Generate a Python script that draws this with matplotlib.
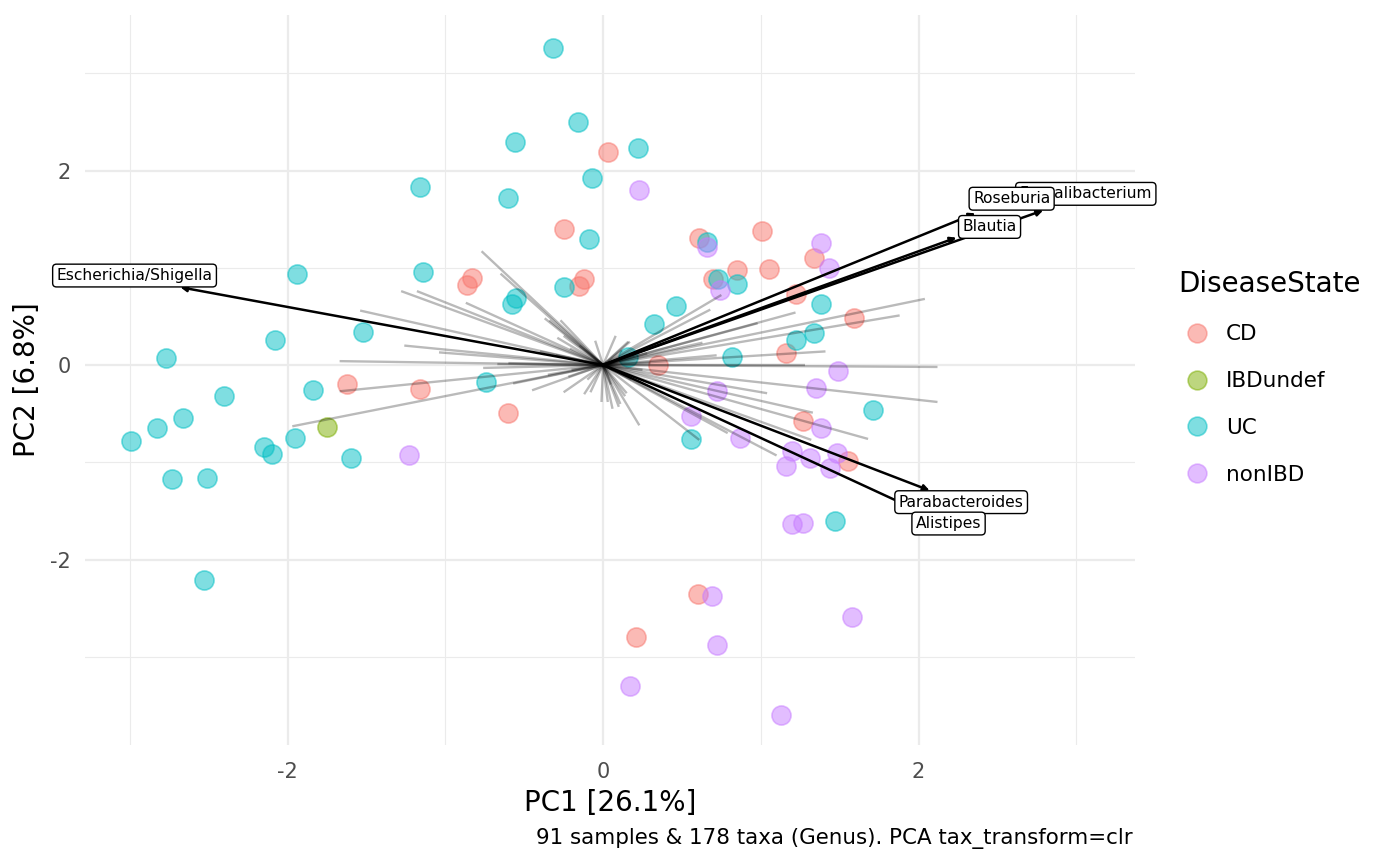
import matplotlib.pyplot as plt
import numpy as np
from matplotlib.lines import Line2D

plt.rcParams['font.family'] = ['DejaVu Sans']
plt.rcParams['axes.unicode_minus'] = False

# sample scores (PC1, PC2) by disease state
cd_x = [0.03, -0.25, -0.83, -0.86, -0.12, -0.15, 0.61, 1.01, 0.70, 0.85, 1.05, 1.34,
        1.22, 1.59, 1.16, 0.35, -1.62, -1.16, -0.60, 1.27, 1.55, 0.60, 0.21]
cd_y = [2.19, 1.40, 0.89, 0.82, 0.88, 0.81, 1.31, 1.38, 0.88, 0.98, 0.99, 1.10,
        0.73, 0.48, 0.12, 0.00, -0.19, -0.25, -0.49, -0.58, -0.99, -2.35, -2.80]

ibd_x = [-1.75]
ibd_y = [-0.64]

uc_x = [-0.32, -0.16, -0.56, 0.22, -0.07, -1.16, -0.60, -0.09, -1.14, -1.94, -0.25,
        -0.55, -0.58, 0.66, 0.73, 0.85, 0.46, 0.32, 1.38, 1.22, 1.34, 0.82, 0.16,
        -2.77, -2.08, -1.52, -2.40, -2.66, -2.83, -2.99, -2.15, -2.10, -1.95, -1.84,
        -1.60, -2.73, -2.51, -2.53, -0.74, 1.71, 0.56, 1.47]
uc_y = [3.26, 2.50, 2.29, 2.23, 1.92, 1.83, 1.72, 1.30, 0.96, 0.94, 0.80,
        0.69, 0.63, 1.26, 0.88, 0.83, 0.61, 0.42, 0.63, 0.26, 0.33, 0.08, 0.08,
        0.07, 0.26, 0.34, -0.32, -0.54, -0.65, -0.78, -0.84, -0.92, -0.75, -0.26,
        -0.96, -1.17, -1.16, -2.21, -0.17, -0.46, -0.76, -1.60]

non_x = [0.23, 0.66, 0.74, 1.38, 1.43, 1.49, 1.35, 0.72, 0.56, 0.87, 1.38, 1.20,
         1.31, 1.48, 1.16, 1.44, 1.20, 1.27, -1.23, 0.69, 1.58, 0.72, 0.17, 1.13]
non_y = [1.80, 1.21, 0.77, 1.25, 1.00, -0.06, -0.24, -0.27, -0.52, -0.75, -0.65, -0.88,
         -0.96, -0.90, -1.04, -1.06, -1.63, -1.62, -0.93, -2.38, -2.59, -2.88, -3.30, -3.60]

# taxa loadings drawn as grey lines from the origin
load_x = [-0.77, -0.65, -1.28, -1.18, -0.87, -1.54, -1.26, -1.04, -1.67, -0.76,
          -1.67, -1.97, -0.45, -0.25, -0.37, -0.27, -0.29, -0.08, -0.01, 0.03,
          0.10, 0.23, 0.16, -0.60, -0.67, -0.57, -0.40, -0.21, -0.34,
          0.75, 0.68, 2.04, 1.88, 1.22, 0.98, 1.41, 0.72, 2.12, 1.28, 2.12,
          1.04, 1.33, 1.68, 1.32, 1.10, 0.79, 0.61, 0.63, 0.15, 0.17,
          0.11, 0.06, -0.30, -0.20, 0.20, 0.25, -0.15, 0.05, -0.10, 0.12,
          0.30, -0.35, 0.18, -0.25, -0.12, 0.08, -0.05, 0.14, -0.22, 0.28]
load_y = [1.17, 0.94, 0.76, 0.76, 0.64, 0.56, 0.20, 0.13, 0.04, -0.03,
          -0.27, -0.63, -0.26, -0.28, 0.48, 0.46, 0.28, -0.28, -0.38, -0.38,
          -0.43, -0.62, 0.24, 0.02, 0.01, -0.19, 0.14, 0.17, 0.46,
          0.72, 0.57, 0.68, 0.51, 0.54, 0.43, 0.14, 0.10, -0.02, 0.00, -0.38,
          -0.29, -0.49, -0.76, -0.77, -0.93, -0.70, -0.77, 0.23, -0.29, 0.24,
          -0.40, -0.45, 0.10, -0.05, 0.10, -0.05, 0.20, -0.20, -0.15, 0.15,
          0.02, -0.10, -0.15, 0.30, -0.30, 0.30, 0.25, -0.32, -0.12, 0.12]

# highlighted taxa: arrow tips and label positions
top_taxa = ['Escherichia/Shigella', 'Faecalibacterium', 'Roseburia', 'Blautia',
            'Parabacteroides', 'Alistipes']
top_x = [-2.68, 2.79, 2.36, 2.24, 2.07, 1.96]
top_y = [0.80, 1.59, 1.56, 1.31, -1.29, -1.47]
lab_x = [-2.97, 3.06, 2.59, 2.45, 2.27, 2.19]
lab_y = [0.92, 1.76, 1.71, 1.42, -1.41, -1.63]

groups = ['CD', 'IBDundef', 'UC', 'nonIBD']
colors = ['#F8766D', '#7CAE00', '#00BFC4', '#C77CFF']

fig = plt.figure(figsize=(14, 8.66), dpi=100)
ax = fig.add_axes([85 / 1400, 1 - 745 / 866, 1050 / 1400, 730 / 866])

for (gx, gy), c in zip([(cd_x, cd_y), (ibd_x, ibd_y), (uc_x, uc_y), (non_x, non_y)], colors):
    ax.scatter(gx, gy, s=190, color=c, alpha=0.5, edgecolors=c, linewidths=1.2, zorder=3)

for lx, ly in zip(load_x, load_y):
    ax.plot([0, lx], [0, ly], color='black', alpha=0.27, lw=1.7, solid_capstyle='butt', zorder=4)

for tx, ty in zip(top_x, top_y):
    ax.annotate('', xy=(tx, ty), xytext=(0, 0),
                arrowprops=dict(arrowstyle='-|>', color='black', lw=1.8, mutation_scale=9,
                                shrinkA=0, shrinkB=0), zorder=5)

for name, lx, ly in zip(top_taxa, lab_x, lab_y):
    ax.text(lx, ly, name, fontsize=11.2, ha='center', va='center', zorder=6,
            bbox=dict(boxstyle='round,pad=0.25,rounding_size=0.25', fc='white', ec='black', lw=1))

ax.set_xlim(-3.284, 3.372)
ax.set_ylim(-3.907, 3.599)
ax.set_xticks([-2, 0, 2])
ax.set_yticks([-2, 0, 2])
ax.set_xticks([-3, -1, 1, 3], minor=True)
ax.set_yticks([-3, -1, 1, 3], minor=True)
ax.grid(which='major', color='#EBEBEB', lw=1.6)
ax.grid(which='minor', color='#EBEBEB', lw=0.8)
ax.set_axisbelow(True)
for s in ax.spines.values():
    s.set_visible(False)
ax.tick_params(which='both', length=0, labelsize=15, labelcolor='#4D4D4D')
ax.tick_params(axis='x', pad=12)
ax.tick_params(axis='y', pad=10)
ax.set_xlabel('PC1 [26.1%]', fontsize=20, labelpad=5)
ax.set_ylabel('PC2 [6.8%]', fontsize=20, labelpad=7)

fig.text(1133 / 1400, 1 - 844 / 866, '91 samples & 178 taxa (Genus). PCA tax_transform=clr',
         fontsize=15.4, ha='right', va='baseline')

handles = [Line2D([], [], marker='o', ls='', markersize=13.5, markerfacecolor=c,
                  markeredgecolor=c, markeredgewidth=1.2, alpha=0.5) for c in colors]
leg = fig.legend(handles, groups, title='DiseaseState', loc='upper left',
                 bbox_to_anchor=(1167 / 1400, 1 - 259 / 866), frameon=False,
                 fontsize=15.5, title_fontsize=20, labelspacing=1.24,
                 handlelength=1.8, handletextpad=0.45, borderpad=0, alignment='left')

plt.savefig('out.png', dpi=100)
